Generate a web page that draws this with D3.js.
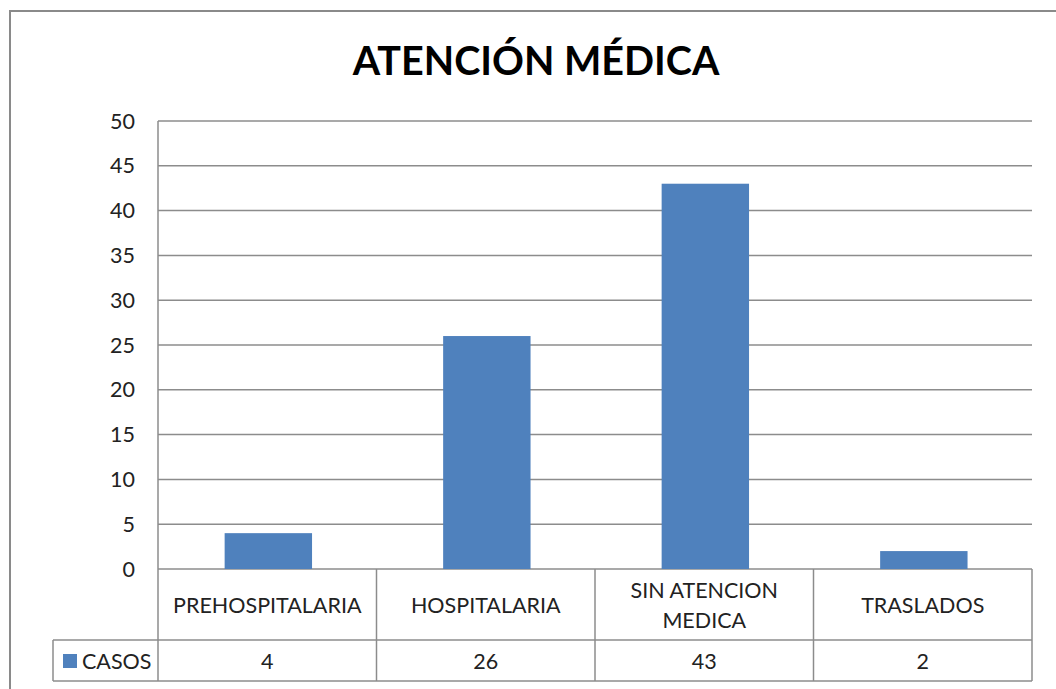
<!DOCTYPE html>
<html>
<head>
<meta charset="utf-8">
<script src="https://cdn.jsdelivr.net/npm/d3@7"></script>
<style>
  body { margin: 0; background: #fff; }
  svg { display: block; font-family: Lato, "Open Sans", sans-serif; }
</style>
</head>
<body>
<svg id="chart" width="1056" height="689"></svg>
<script>
// chart data
const categories = ["PREHOSPITALARIA", "HOSPITALARIA", "SIN ATENCION MEDICA", "TRASLADOS"];
const categoryLines = [["PREHOSPITALARIA"], ["HOSPITALARIA"], ["SIN ATENCION", "MEDICA"], ["TRASLADOS"]];
const casos = [4, 26, 43, 2];
const yTicks = [0, 5, 10, 15, 20, 25, 30, 35, 40, 45, 50];
const seriesName = "CASOS";
const title = "ATENCIÓN MÉDICA";

const svg = d3.select("#chart");
const plotLeft = 158, plotRight = 1032, plotTop = 121, plotBottom = 569;
const rowMid = 640, rowEnd = 681, legendLeft = 53;
const gridColor = "#8c8c8c";
const barColor = "#4f81bd";
const labelSize = 21.5;

// outer frame
svg.append("rect")
  .attr("x", 10).attr("y", 11)
  .attr("width", 1100).attr("height", 700)
  .attr("fill", "none")
  .attr("stroke", "#8a8a8a")
  .attr("stroke-width", 2);

// title
svg.append("text")
  .attr("x", 536).attr("y", 75)
  .attr("text-anchor", "middle")
  .attr("font-size", 39.5)
  .attr("font-weight", "bold")
  .attr("fill", "#000")
  .text(title);

// scales
const x = d3.scaleBand().domain(categories).range([plotLeft, plotRight]);
const y = d3.scaleLinear().domain([0, 50]).range([plotBottom, plotTop]);

// gridlines
svg.append("g")
  .selectAll("line")
  .data(yTicks)
  .join("line")
  .attr("x1", plotLeft).attr("x2", plotRight)
  .attr("y1", d => y(d)).attr("y2", d => y(d))
  .attr("stroke", gridColor)
  .attr("stroke-width", 1.5);

// y axis line
svg.append("line")
  .attr("x1", plotLeft).attr("x2", plotLeft)
  .attr("y1", plotTop).attr("y2", rowEnd)
  .attr("stroke", gridColor)
  .attr("stroke-width", 1.5);

// y tick labels
svg.append("g")
  .selectAll("text")
  .data(yTicks)
  .join("text")
  .attr("x", 135)
  .attr("y", d => y(d))
  .attr("dy", "0.35em")
  .attr("text-anchor", "end")
  .attr("font-size", labelSize)
  .attr("fill", "#222")
  .text(d => d);

// bars
const bw = x.bandwidth();
svg.append("g")
  .selectAll("rect")
  .data(casos)
  .join("rect")
  .attr("x", (d, i) => x(categories[i]) + bw * 0.305)
  .attr("width", bw * 0.4)
  .attr("y", d => y(d))
  .attr("height", d => y(0) - y(d))
  .attr("fill", barColor);

// data table lines
const table = svg.append("g")
  .attr("stroke", gridColor)
  .attr("stroke-width", 1.5);

categories.forEach(c => {
  const xr = x(c) + bw;
  table.append("line")
    .attr("x1", xr).attr("x2", xr)
    .attr("y1", plotBottom).attr("y2", rowEnd);
});
[rowMid, rowEnd].forEach(yy => {
  table.append("line")
    .attr("x1", legendLeft).attr("x2", plotRight)
    .attr("y1", yy).attr("y2", yy);
});
table.append("line")
  .attr("x1", legendLeft).attr("x2", legendLeft)
  .attr("y1", rowMid).attr("y2", rowEnd);

// category labels
categoryLines.forEach((lines, i) => {
  const cx = x(categories[i]) + bw / 2;
  const start = 605 - (lines.length - 1) * 15;
  lines.forEach((ln, j) => {
    svg.append("text")
      .attr("x", cx)
      .attr("y", start + j * 30)
      .attr("dy", "0.35em")
      .attr("text-anchor", "middle")
      .attr("font-size", labelSize)
      .attr("fill", "#222")
      .text(ln);
  });
});

// values row
casos.forEach((v, i) => {
  svg.append("text")
    .attr("x", x(categories[i]) + bw / 2)
    .attr("y", 661)
    .attr("dy", "0.35em")
    .attr("text-anchor", "middle")
    .attr("font-size", labelSize)
    .attr("fill", "#222")
    .text(v);
});

// legend key
svg.append("rect")
  .attr("x", 63).attr("y", 654)
  .attr("width", 14).attr("height", 14)
  .attr("fill", barColor);
svg.append("text")
  .attr("x", 82).attr("y", 661)
  .attr("dy", "0.35em")
  .attr("font-size", labelSize)
  .attr("fill", "#222")
  .text(seriesName);
</script>
</body>
</html>
